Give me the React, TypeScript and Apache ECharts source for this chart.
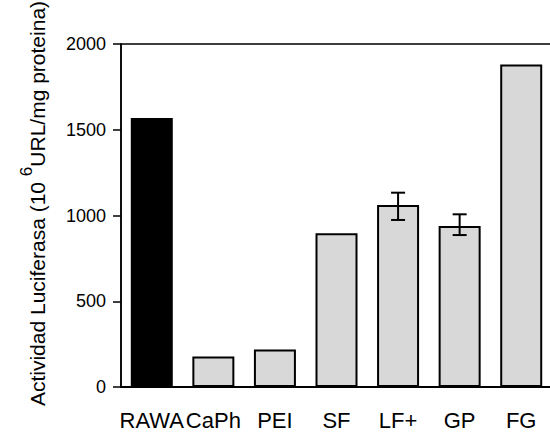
import React, { useEffect, useRef } from "react";
import * as echarts from "echarts";

const categories = ["RAWA", "CaPh", "PEI", "SF", "LF+", "GP", "FG"];
const values = [1568, 178, 218, 897, 1061, 939, 1880];
const errIndex = [4, 5];
const errHigh = [1133, 1007];
const errLow = [974, 886];
const yTicks = { min: 0, max: 2000, interval: 500 };

const FONT = "'Liberation Sans', Arial, Helvetica, sans-serif";

export default function App() {
  const ref = useRef<HTMLDivElement>(null);
  useEffect(() => {
    document.body.style.margin = "0";
    const chart = echarts.init(ref.current!, null, { renderer: "svg" });
    const barData = values.map((v, i) => ({
      value: v,
      itemStyle: {
        color: i === 0 ? "#000000" : "#d8d8d8",
        borderColor: "#000",
        borderWidth: i === 0 ? 0 : 2,
      },
    }));
    const errData = errIndex.map((idx, k) => [idx, errHigh[k], errLow[k]]);
    chart.setOption({
      animation: false,
      backgroundColor: "#ffffff",
      grid: {
        left: 121,
        right: -2,
        top: 44,
        bottom: 48,
        outerBoundsMode: "none",
        containLabel: false,
        show: true,
        borderColor: "#000",
        borderWidth: 1.5,
        backgroundColor: "transparent",
      },
      xAxis: {
        type: "category",
        data: categories,
        axisLine: { lineStyle: { color: "#000", width: 2 } },
        axisTick: { alignWithLabel: true, length: 7, lineStyle: { color: "#000", width: 1.5 } },
        axisLabel: { color: "#000", fontSize: 22, fontFamily: FONT, margin: 22, interval: 0 },
      },
      yAxis: {
        type: "value",
        min: yTicks.min,
        max: yTicks.max,
        interval: yTicks.interval,
        splitLine: { show: false },
        axisLine: { show: true, lineStyle: { color: "#000", width: 1.5 } },
        axisTick: { show: true, length: 8, lineStyle: { color: "#000", width: 1.5 } },
        axisLabel: {
          color: "#000",
          fontSize: 18,
          fontFamily: FONT,
          margin: 15,
          formatter: (v: number) => String(v),
        },
        name: "{m|Actividad Luciferasa (10 }{s|6}{m|URL/mg proteina)}",
        nameLocation: "middle",
        nameGap: 73,
        nameTextStyle: {
          color: "#000",
          fontFamily: FONT,
          padding: [0, 0, 0, 24],
          rich: {
            m: { fontSize: 21, fontFamily: FONT, color: "#000", lineHeight: 30, verticalAlign: "bottom" },
            s: { fontSize: 17, fontFamily: FONT, color: "#000", lineHeight: 18, verticalAlign: "top" },
          },
        },
      },
      series: [
        {
          type: "bar",
          data: barData,
          barWidth: 42,
        },
        {
          type: "custom",
          data: errData,
          z: 5,
          renderItem: (params: any, api: any) => {
            const x = api.value(0);
            const hi = api.coord([x, api.value(1)]);
            const lo = api.coord([x, api.value(2)]);
            const hw = 7;
            const st = { stroke: "#000", lineWidth: 2 };
            return {
              type: "group",
              children: [
                { type: "line", shape: { x1: hi[0], y1: hi[1], x2: lo[0], y2: lo[1] }, style: st },
                { type: "line", shape: { x1: hi[0] - hw, y1: hi[1], x2: hi[0] + hw, y2: hi[1] }, style: st },
                { type: "line", shape: { x1: lo[0] - hw, y1: lo[1], x2: lo[0] + hw, y2: lo[1] }, style: st },
              ],
            };
          },
        },
      ],
    });
    return () => chart.dispose();
  }, []);
  return <div ref={ref} style={{ position: "fixed", left: 0, top: 0, width: 550, height: 435 }} />;
}
